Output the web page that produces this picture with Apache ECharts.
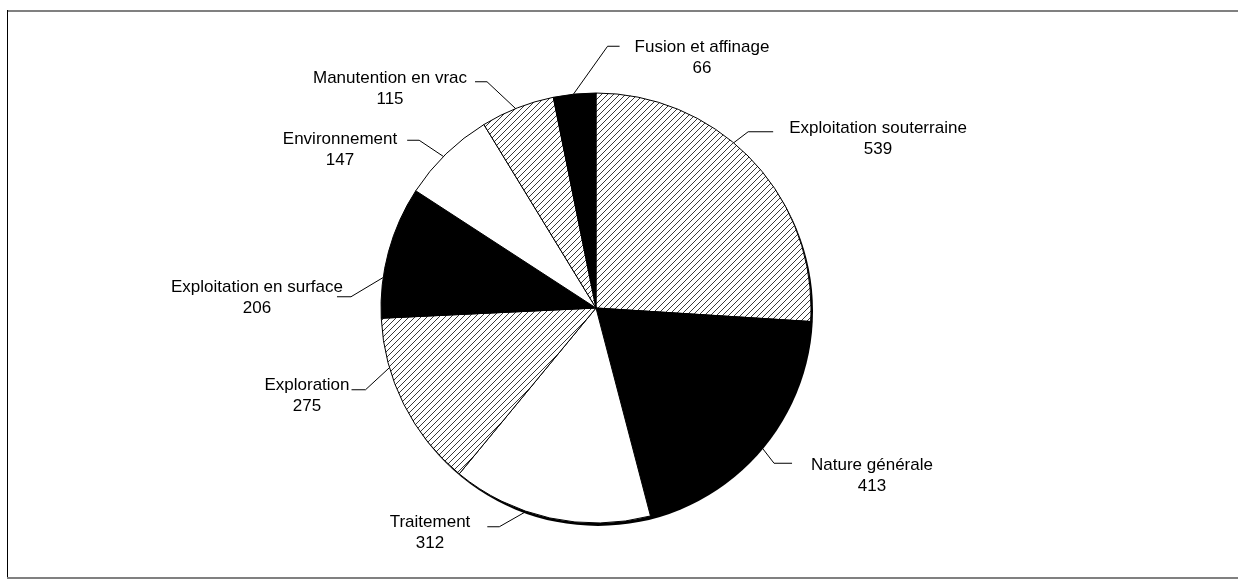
<!DOCTYPE html>
<html>
<head>
<meta charset="utf-8">
<script src="https://cdn.jsdelivr.net/npm/echarts@6/dist/echarts.min.js"></script>
<style>
html,body{margin:0;padding:0;background:#fff;}
#chart{width:1238px;height:579px;}
</style>
</head>
<body>
<div id="chart"></div>
<script>
// ---- data ----
var categories = ['Exploitation souterraine', 'Nature générale', 'Traitement', 'Exploration',
                  'Exploitation en surface', 'Environnement', 'Manutention en vrac', 'Fusion et affinage'];
var values = [539, 413, 312, 275, 206, 147, 115, 66];
var fills = ['hatch', 'black', 'white', 'hatch', 'black', 'white', 'hatch', 'black'];

// ---- layout (label block centres and leader geometry) ----
var labelPos = [[878, 139], [872, 476], [430, 533], [307, 396],
                [257, 298], [340, 150], [390, 89], [702, 58]];
var leaderDy    = [3, -2.5, 4, 4, 9, 0.5, 3, -1.5];   // px
var leaderGap   = [16, 19, 17, 2, -6, 10, 8, 15];     // px
var leaderSeg   = [25, 18, 12, 14, 14, 12, 12, 12];   // px
var leaderShift = [-7, 0.5, 6.5, 10.5, -7, -1, -0.5, -0.3]; // degrees from slice middle
var CX = 596, CY = 308, R = 215;
var FONT = 17, LH = 20.5;

function makeHatch() {
  var s = 6;
  var c = document.createElement('canvas');
  c.width = s; c.height = s;
  var g = c.getContext('2d');
  g.fillStyle = '#fff'; g.fillRect(0, 0, s, s);
  g.strokeStyle = '#222'; g.lineWidth = 0.9;
  g.beginPath();
  g.moveTo(-1, s + 1); g.lineTo(s + 1, -1);
  g.moveTo(-1, 1); g.lineTo(1, -1);
  g.moveTo(s - 1, s + 1); g.lineTo(s + 1, s - 1);
  g.stroke();
  return c;
}
var hatch = { image: makeHatch(), repeat: 'repeat' };
function fillOf(k) { return k === 'hatch' ? hatch : (k === 'black' ? '#000' : '#fff'); }

var total = values.reduce(function (a, b) { return a + b; }, 0);
var midAngles = [];
(function () { var acc = 0; for (var i = 0; i < values.length; i++) { midAngles.push((acc + values[i] / 2) / total * 2 * Math.PI); acc += values[i]; } })();

var data = categories.map(function (n, i) {
  return { name: n, value: values[i], itemStyle: { color: fillOf(fills[i]) } };
});

function anchorFor(i) {
  var a = midAngles[i] + leaderShift[i] * Math.PI / 180;
  return [CX + R * Math.sin(a), CY - R * Math.cos(a)];
}

var chart = echarts.init(document.getElementById('chart'), null, { renderer: 'canvas' });
chart.setOption({
  backgroundColor: '#fff',
  animation: false,
  graphic: [
    { type: 'line', shape: { x1: 7, y1: 11, x2: 1240, y2: 11 }, style: { stroke: '#808080', lineWidth: 2 } },
    { type: 'line', shape: { x1: 7.5, y1: 10, x2: 7.5, y2: 578 }, style: { stroke: '#000', lineWidth: 1 } },
    { type: 'line', shape: { x1: 7, y1: 578, x2: 1240, y2: 578 }, style: { stroke: '#808080', lineWidth: 2 } }
  ],
  series: [
    {
      type: 'pie', silent: true, z: 1,
      center: [CX + 2, CY + 3], radius: R,
      label: { show: false }, labelLine: { show: false },
      itemStyle: { color: '#000', borderWidth: 0 },
      data: [{ name: '', value: 1 }]
    },
    {
      type: 'pie', z: 2,
      center: [CX, CY], radius: R,
      startAngle: 90, clockwise: true,
      avoidLabelOverlap: false,
      itemStyle: { borderColor: '#000', borderWidth: 1 },
      label: {
        show: true, position: 'outside',
        formatter: '{b}\n{c}',
        color: '#000', fontSize: FONT, lineHeight: LH,
        fontFamily: '"Liberation Sans", Arial, sans-serif',
        align: 'center'
      },
      labelLine: { show: true, length: 20, length2: 15, lineStyle: { color: '#000', width: 1 } },
      emphasis: { disabled: true },
      labelLayout: function (p) {
        var i = p.dataIndex;
        var pos = labelPos[i];
        var w = p.labelRect.width;
        var y1 = pos[1] - LH / 2 + leaderDy[i];
        var right = pos[0] > CX;
        var endX = right ? pos[0] - w / 2 - leaderGap[i] : pos[0] + w / 2 + leaderGap[i];
        var elbowX = right ? endX - leaderSeg[i] : endX + leaderSeg[i];
        return {
          x: pos[0], y: pos[1], align: 'center', verticalAlign: 'middle',
          labelLinePoints: [anchorFor(i), [elbowX, y1], [endX, y1]]
        };
      },
      data: data
    }
  ]
});
</script>
</body>
</html>
